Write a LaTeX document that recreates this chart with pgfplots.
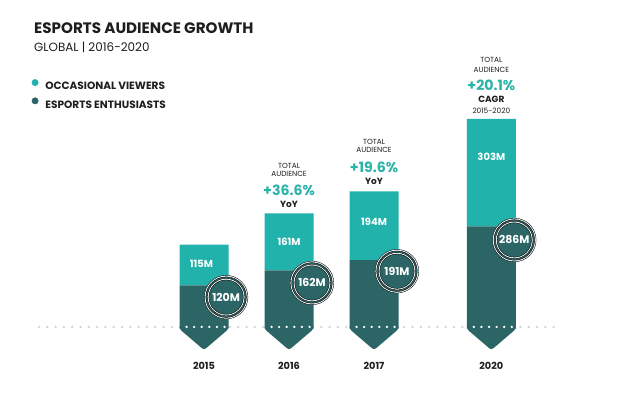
\documentclass[border=0pt]{standalone}
\usepackage{pgfplots}
\pgfplotsset{compat=1.18}
\usepackage{fontspec}
\setmainfont{Poppins}
\definecolor{light}{HTML}{22B2AC}
\definecolor{dark}{HTML}{2B6566}
\definecolor{pct}{HTML}{2AB3A9}
\definecolor{dotgray}{HTML}{CFD3D3}
\definecolor{txt}{HTML}{1E1E1E}
\pgfplotsset{canvas/.style={at={(0,0)}, anchor=south west, width=640bp, height=396bp,
  scale only axis, hide axis, xmin=-2.4, xmax=5.129, ymin=-191.5, ymax=923.9, clip=false}}
\newcommand\fs[1]{\fontsize{#1}{#1}\selectfont}
\tikzset{
  sm/.style={anchor=base, inner sep=0pt, text=txt, font=\fs{7.4}},
  pc/.style={anchor=base, inner sep=0pt, text=pct, font=\fs{14.2}\bfseries},
  yy/.style={anchor=base, inner sep=0pt, text=txt, font=\fs{9}\bfseries},
  bl/.style={text=white, font=\fs{10}\bfseries},
  yl/.style={anchor=base, text=txt, font=\fs{9.8}\bfseries}
}
\begin{document}
\begin{tikzpicture}
% background: dotted baseline and chevrons
\begin{axis}[canvas]
\addplot[dotgray, line width=2.6bp, line cap=round, dash pattern=on 0pt off 8.3bp] coordinates {(-1.941,3) (4.188,3)};
\addplot[fill=dark, draw=none, solid, rounded corners=2.5bp] coordinates {(-0.288,5) (-0.288,-3) (0,-62) (0.288,-3) (0.288,5)} -- cycle;
\addplot[fill=dark, draw=none, solid, rounded corners=2.5bp] coordinates {(0.712,5) (0.712,-3) (1,-62) (1.288,-3) (1.288,5)} -- cycle;
\addplot[fill=dark, draw=none, solid, rounded corners=2.5bp] coordinates {(1.712,5) (1.712,-3) (2,-62) (2.288,-3) (2.288,5)} -- cycle;
\addplot[fill=dark, draw=none, solid, rounded corners=2.5bp] coordinates {(3.092,5) (3.092,-3) (3.38,-62) (3.668,-3) (3.668,5)} -- cycle;
\end{axis}
% stacked bars
\begin{axis}[canvas, ybar stacked, bar width=49bp]
\addplot[fill=dark, draw=none] coordinates {(0,120) (1,162) (2,191) (3.38,286)};
\addplot[fill=light, draw=none] coordinates {(0,115) (1,161) (2,194) (3.38,303)};
\end{axis}
% overlay
\begin{axis}[canvas,
  legend style={at={(axis description cs:{31.5/640},{1-79/396})}, anchor=north west, draw=none, fill=none,
    inner sep=0pt, row sep=7.5bp, column sep=6.8bp, font=\fs{10.6}\bfseries, text=txt,
    nodes={inner sep=0pt, text depth=0pt}},
  legend cell align=left]
% ringed circles
\addplot[forget plot, solid, only marks, mark=*, mark size=21.8bp, mark options={solid, draw=none, fill=white}] coordinates {(0.26,87) (1.27,127) (2.27,160) (3.65,248)};
\addplot[forget plot, solid, only marks, mark=*, mark size=20.3bp, mark options={solid, draw=none, fill=dark}] coordinates {(0.26,87) (1.27,127) (2.27,160) (3.65,248)};
\addplot[forget plot, solid, only marks, mark=*, mark size=18.7bp, mark options={solid, draw=none, fill=white}] coordinates {(0.26,87) (1.27,127) (2.27,160) (3.65,248)};
\addplot[forget plot, solid, only marks, mark=*, mark size=17.2bp, mark options={solid, draw=none, fill=dark},
  point meta=explicit symbolic, nodes near coords,
  every node near coord/.append style={anchor=center, text=white, font=\fs{11}\bfseries}]
  coordinates {(0.26,87)[120M] (1.27,127)[162M] (2.27,160)[191M] (3.65,248)[286M]};
% white dots on bars
\addplot[forget plot, white, line width=2.6bp, line cap=round, dash pattern=on 0pt off 7.6bp] coordinates {(-0.206,3) (0.26,3)};
\addplot[forget plot, white, line width=2.6bp, line cap=round, dash pattern=on 0pt off 7.6bp] coordinates {(0.794,3) (1.26,3)};
\addplot[forget plot, white, line width=2.6bp, line cap=round, dash pattern=on 0pt off 7.6bp] coordinates {(1.794,3) (2.26,3)};
\addplot[forget plot, white, line width=2.6bp, line cap=round, dash pattern=on 0pt off 7.6bp] coordinates {(3.174,3) (3.64,3)};
% value labels
\node[bl] at (axis cs:-0.03,180) {115M};
\node[bl] at (axis cs:1,242) {161M};
\node[bl] at (axis cs:2,299) {194M};
\node[bl] at (axis cs:3.38,482) {303M};
% years
\node[yl] at (axis cs:0,-118) {2015};
\node[yl] at (axis cs:1,-118) {2016};
\node[yl] at (axis cs:2,-118) {2017};
\node[yl] at (axis cs:3.38,-118) {2020};
% annotations
\node[sm] at (axis cs:1,450.7) {TOTAL};
\node[sm] at (axis cs:1,425.4) {AUDIENCE};
\node[pc] at (axis cs:1,374.6) {+36.6\%};
\node[yy] at (axis cs:1,340.8) {YoY};
\node[sm] at (axis cs:2,515.5) {TOTAL};
\node[sm] at (axis cs:2,493) {AUDIENCE};
\node[pc] at (axis cs:2,439.4) {+19.6\%};
\node[yy] at (axis cs:2,405.6) {YoY};
\node[sm] at (axis cs:3.38,746.5) {TOTAL};
\node[sm] at (axis cs:3.38,721.1) {AUDIENCE};
\node[pc] at (axis cs:3.38,670.4) {+20.1\%};
\node[yy] at (axis cs:3.38,633.8) {CAGR};
\node[sm] at (axis cs:3.38,605.6) {2015-2020};
% title
\node[anchor=base west, inner sep=0pt, text=txt, font=\fs{15.2}\bfseries] at (axis description cs:{34/640},{1-33/396}) {ESPORTS AUDIENCE GROWTH};
\node[anchor=base west, inner sep=0pt, text=txt, font=\fs{12}] at (axis description cs:{34/640},{1-52/396}) {GLOBAL | 2016-2020};
% legend
\addlegendimage{legend image code/.code={\fill[light] (0,0.36em) circle (3.2bp);}}
\addlegendentry{OCCASIONAL VIEWERS}
\addlegendimage{legend image code/.code={\fill[dark] (0,0.36em) circle (3.2bp);}}
\addlegendentry{ESPORTS ENTHUSIASTS}
\end{axis}
\pgfresetboundingbox
\useasboundingbox (0,0) rectangle (640bp,396bp);
\end{tikzpicture}
\end{document}
